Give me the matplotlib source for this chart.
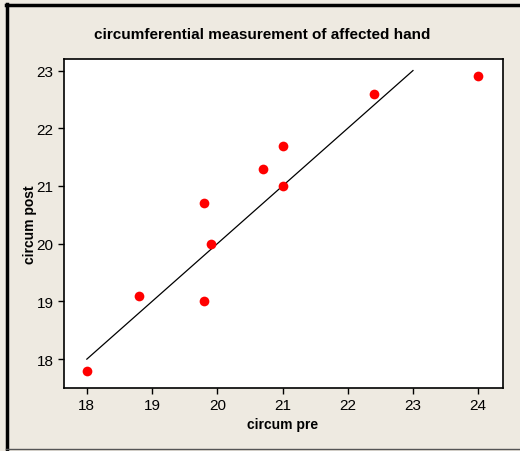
import matplotlib
matplotlib.use("Agg")
import matplotlib.pyplot as plt
from matplotlib.lines import Line2D

# datos
circum_pre = [18.0, 18.8, 19.8, 19.8, 19.9, 20.7, 21.0, 21.0, 22.4, 24.0]
circum_post = [17.8, 19.1, 19.0, 20.7, 20.0, 21.3, 21.0, 21.7, 22.6, 22.9]
linea_x = [18, 23]
linea_y = [18, 23]
x_ticks = [18, 19, 20, 21, 22, 23, 24]
y_ticks = [18, 19, 20, 21, 22, 23]

fondo = "#eeeae1"
plt.rcParams["font.family"] = ["Liberation Sans"]

fig = plt.figure(figsize=(5.2, 4.52), dpi=100, facecolor=fondo)
ax = fig.add_axes([64/520, 1-389/452, (503-64)/520, (389-60)/452])

ax.plot(linea_x, linea_y, color="black", linewidth=0.9)
ax.plot(circum_pre, circum_post, "o", color="red", markersize=7, markeredgewidth=0)

ax.set_xlim(17.65, 24.38)
ax.set_ylim(17.5, 23.2)
ax.set_xticks(x_ticks)
ax.set_yticks(y_ticks)
ax.tick_params(direction="out", length=4, width=1, labelsize=11, colors="black")
ax.tick_params(axis="x", pad=3)
for s in ax.spines.values():
    s.set_linewidth(1.2)

fig.text(262/520, 1-35/452, "circumferential measurement of affected hand",
         ha="center", va="center", fontsize=11, fontweight="bold")
fig.text(283/520, 1-425/452, "circum pre", ha="center", va="center",
         fontsize=10, fontweight="bold")
fig.text(30/520, 1-225/452, "circum post", ha="center", va="center",
         fontsize=10, fontweight="bold", rotation=90)

# marco exterior
fig.add_artist(Line2D([7/520, 7/520], [1-450/452, 1-5/452], transform=fig.transFigure,
                      color="black", linewidth=2.5))
fig.add_artist(Line2D([6/520, 1], [1-5.5/452, 1-5.5/452], transform=fig.transFigure,
                      color="black", linewidth=2.5))
fig.add_artist(Line2D([6/520, 1], [1-450/452, 1-450/452], transform=fig.transFigure,
                      color="#555555", linewidth=1))

fig.savefig("out.png", dpi=100, facecolor=fondo)
